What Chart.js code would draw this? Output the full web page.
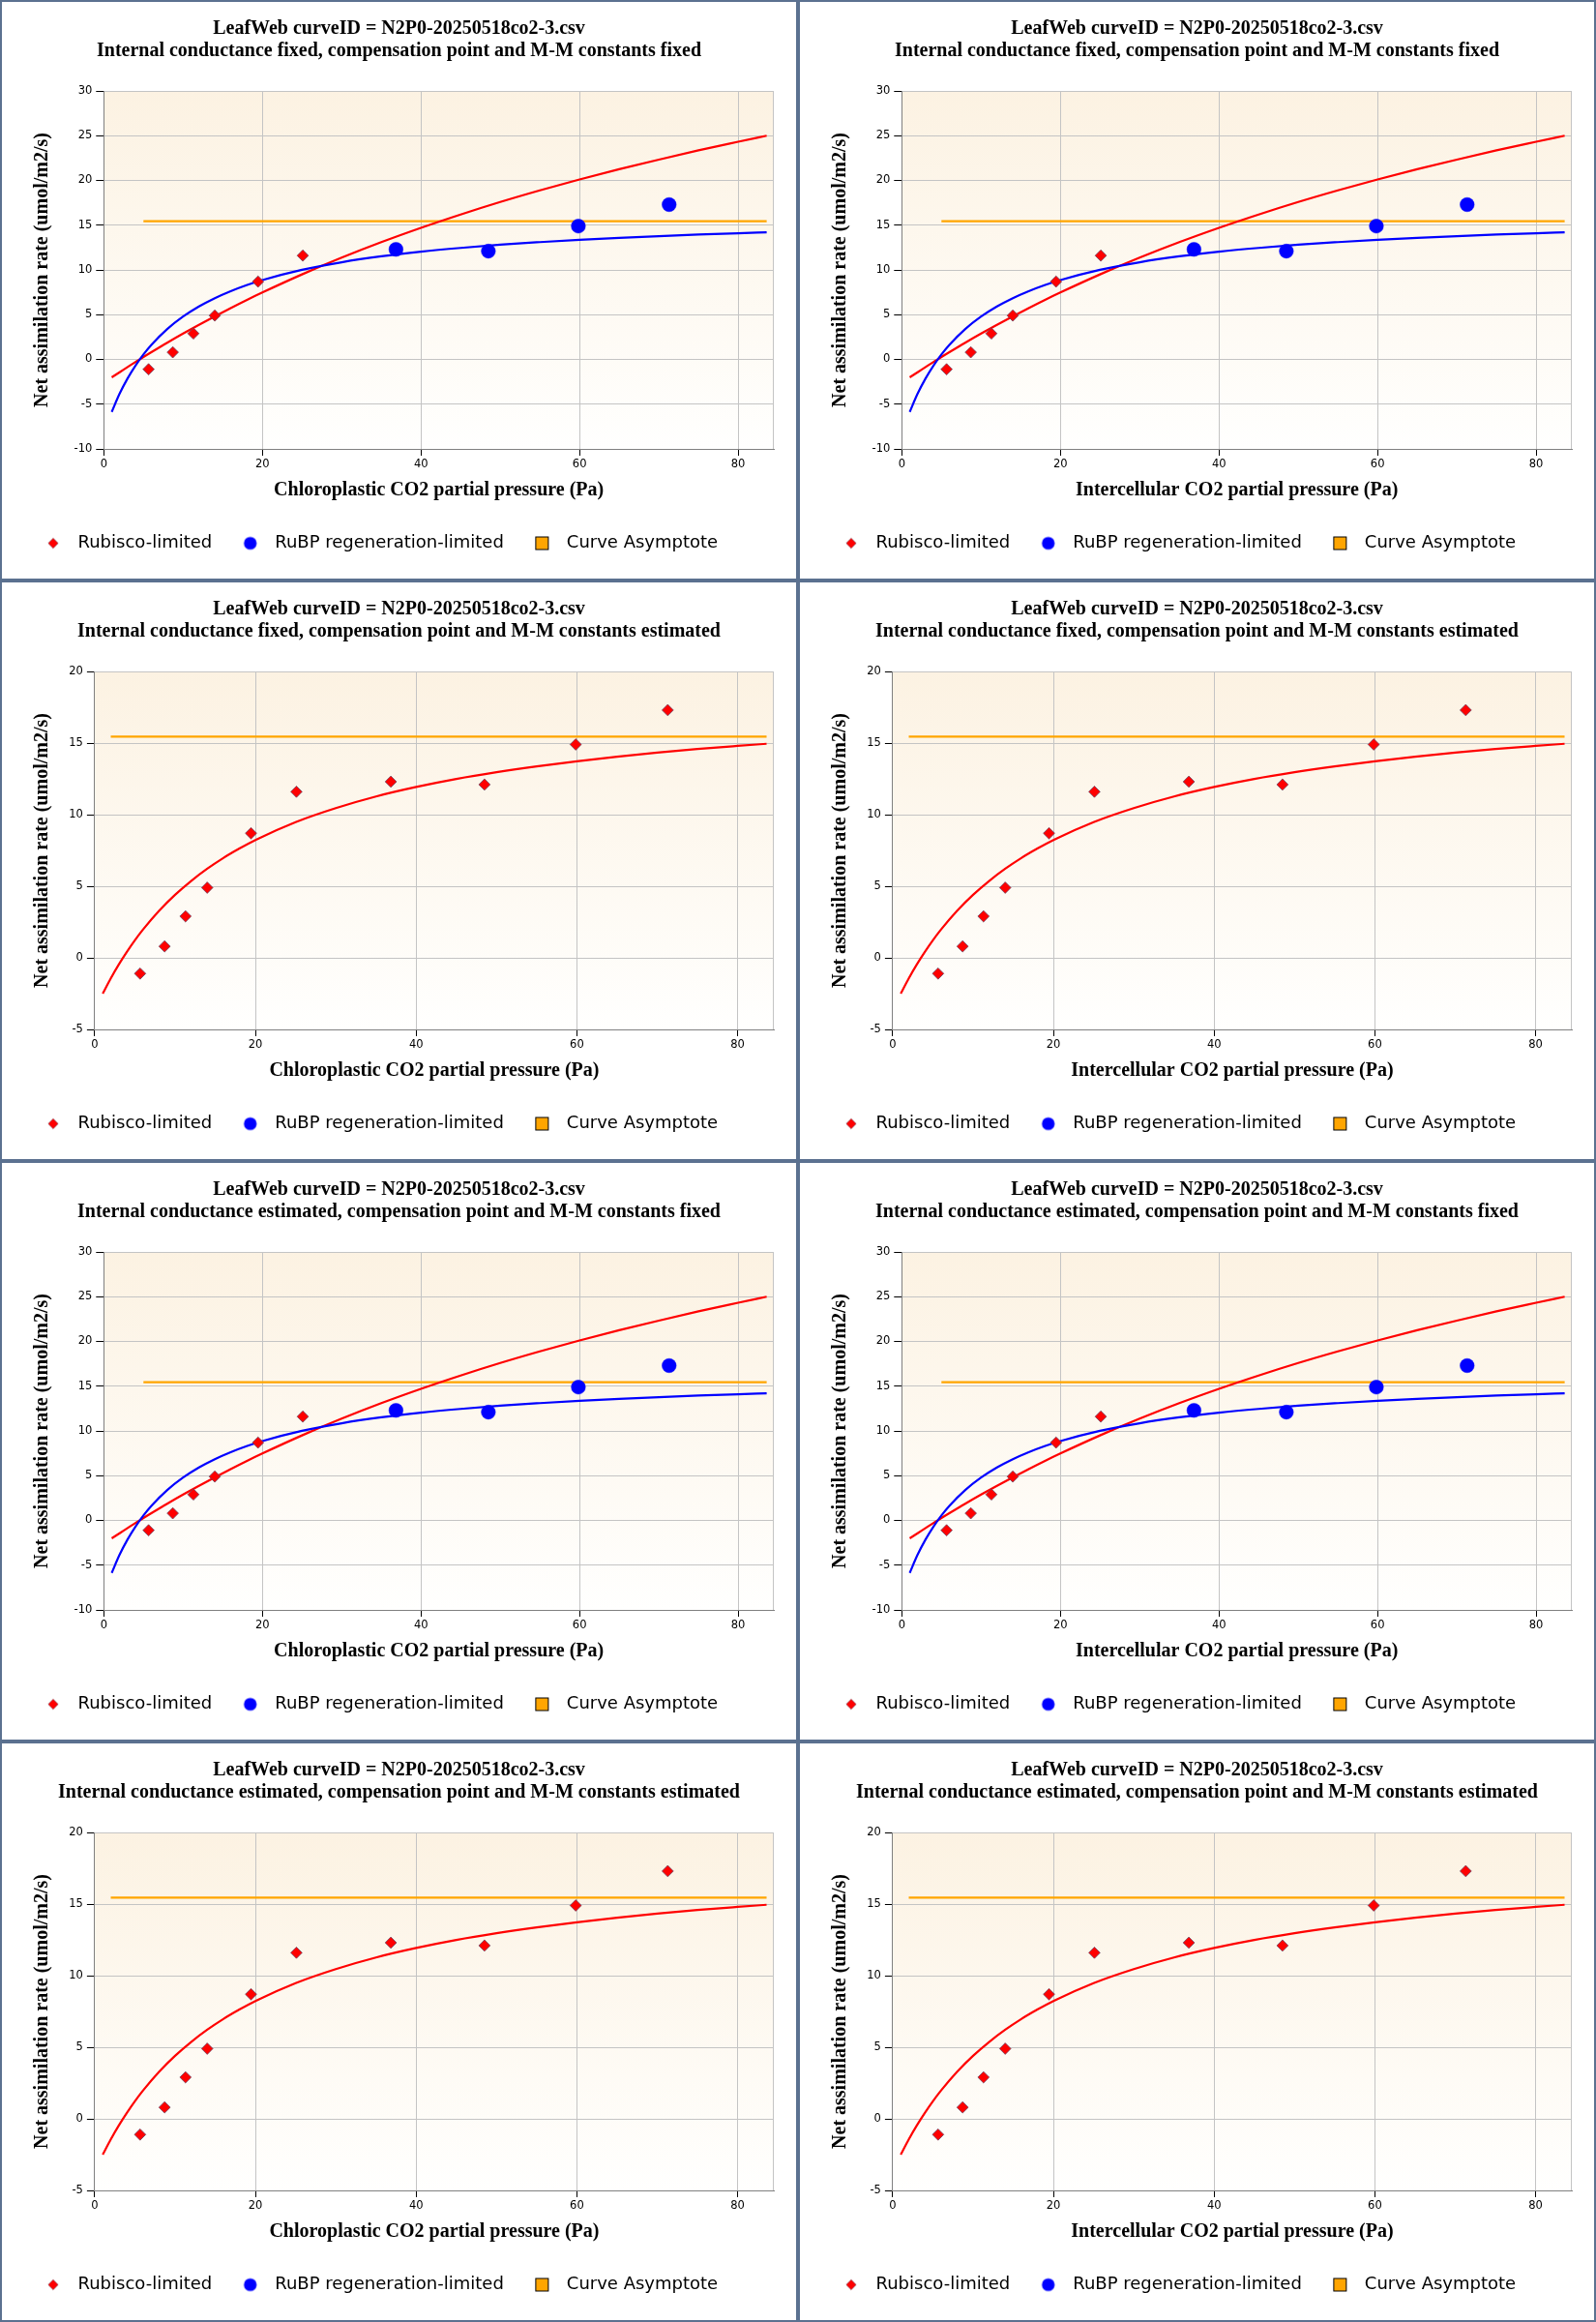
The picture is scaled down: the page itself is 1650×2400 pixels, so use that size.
<!DOCTYPE html>
<html><head><meta charset="utf-8">
<script src="https://cdn.jsdelivr.net/npm/chart.js@4.4.1/dist/chart.umd.min.js"></script>
<style>
html,body{margin:0;padding:0;background:#fff;}
#wrap{position:relative;width:1650px;height:2400px;overflow:hidden;}
.panel{position:absolute;width:825px;height:600px;}
.panel canvas{position:absolute;left:0;top:0;}
.frame{position:absolute;left:0;top:0;width:825px;height:600px;border:2px solid #5b7190;box-sizing:border-box;pointer-events:none;}
</style></head><body><div id="wrap"></div>
<script>
// ---- data ----
const measuredX = [5.65, 8.7, 11.3, 14.0, 19.45, 25.1, 36.85, 48.5, 59.85, 71.3];
const measuredA = [-1.1, 0.8, 2.9, 4.9, 8.7, 11.6, 12.3, 12.1, 14.9, 17.3];
const rubiscoCountFixed = 6;

const curveX = [1, 2, 3, 4, 5, 6, 8, 10, 12, 14, 16, 18, 20, 25, 30, 35, 40, 45, 50, 55, 60, 65, 70, 75, 80, 83.6];
const rubiscoCurveFixed = [-2.0, -1.43, -0.85, -0.29, 0.27, 0.81, 1.87, 2.89, 3.87, 4.82, 5.74, 6.63, 7.48, 9.50, 11.37, 13.10, 14.70, 16.19, 17.59, 18.89, 20.11, 21.26, 22.33, 23.36, 24.32, 25.0];
const rubpCurveFixed = [-5.87, -3.82, -2.12, -0.68, 0.56, 1.63, 3.39, 4.79, 5.92, 6.85, 7.63, 8.30, 8.87, 10.01, 10.86, 11.52, 12.04, 12.46, 12.82, 13.11, 13.37, 13.59, 13.78, 13.95, 14.10, 14.20];
const rubiscoCurveEst = [-2.50, -1.43, -0.46, 0.42, 1.23, 1.97, 3.28, 4.40, 5.37, 6.22, 6.97, 7.63, 8.23, 9.48, 10.46, 11.27, 11.93, 12.49, 12.96, 13.37, 13.73, 14.05, 14.33, 14.58, 14.80, 14.95];

const asymptoteValue = 15.45;
const asymptoteXFixed = [5.0, 83.6];
const asymptoteXEst = [2.0, 83.6];

const xTicks = [0, 20, 40, 60, 80];
const xAxisMax = 84.5;
const yTicksFixed = [-10, -5, 0, 5, 10, 15, 20, 25, 30];
const yTicksEst = [-5, 0, 5, 10, 15, 20];

const headerLine = 'LeafWeb curveID = N2P0-20250518co2-3.csv';
const subtitles = [
  'Internal conductance fixed, compensation point and M-M constants fixed',
  'Internal conductance fixed, compensation point and M-M constants estimated',
  'Internal conductance estimated, compensation point and M-M constants fixed',
  'Internal conductance estimated, compensation point and M-M constants estimated'
];
const xAxisTitles = ['Chloroplastic CO2 partial pressure (Pa)', 'Intercellular CO2 partial pressure (Pa)'];
const yAxisTitle = 'Net assimilation rate (umol/m2/s)';
const legendLabels = ['Rubisco-limited', 'RuBP regeneration-limited', 'Curve Asymptote'];

// ---- styling ----
const RED = '#ff0000', BLUE = '#0000ff', ORANGE = '#ffa500';
const serif = 'Liberation Serif';
const sans = 'DejaVu Sans';

function pts(xs, ys) { return xs.map((x, i) => ({x: x, y: ys[i]})); }

function makeIcon(kind) {
  const c = document.createElement('canvas');
  c.width = 16; c.height = 16;
  const g = c.getContext('2d');
  if (kind === 'diamond') {
    g.beginPath(); g.moveTo(8, 2.8); g.lineTo(13.2, 8); g.lineTo(8, 13.2); g.lineTo(2.8, 8); g.closePath();
    g.fillStyle = RED; g.fill(); g.lineWidth = 0.7; g.strokeStyle = 'rgba(110,60,80,0.8)'; g.stroke();
  } else if (kind === 'circle') {
    g.beginPath(); g.arc(8, 8, 6.6, 0, Math.PI * 2); g.fillStyle = BLUE; g.fill();
  } else {
    g.fillStyle = ORANGE; g.fillRect(1.5, 1.5, 13, 13);
    g.lineWidth = 1; g.strokeStyle = '#000'; g.strokeRect(1.5, 1.5, 13, 13);
  }
  return c;
}
const icons = [makeIcon('diamond'), makeIcon('circle'), makeIcon('square')];

const plotFrame = {
  id: 'plotFrame',
  afterLayout(chart) {
    if (chart.titleBlock) chart.titleBlock.left = 25;
  },
  beforeDraw(chart) {
    const {ctx, chartArea: a} = chart;
    const g = ctx.createLinearGradient(0, a.top, 0, a.bottom);
    g.addColorStop(0, '#fcf2e2');
    g.addColorStop(1, '#fffffe');
    ctx.save();
    ctx.fillStyle = g;
    ctx.fillRect(a.left, a.top, a.right - a.left, a.bottom - a.top);
    ctx.restore();
  },
  beforeDatasetsDraw(chart) {
    const {ctx, chartArea: a} = chart;
    ctx.save();
    ctx.strokeStyle = '#c4c4c4';
    ctx.lineWidth = 1;
    ctx.beginPath();
    ctx.moveTo(a.right - 0.5, a.top); ctx.lineTo(a.right - 0.5, a.bottom);
    ctx.stroke();
    ctx.restore();
  }
};

function buildPanel(row, col) {
  const fixed = row % 2 === 0;
  const panel = document.createElement('div');
  panel.className = 'panel';
  panel.style.left = (col * 825) + 'px';
  panel.style.top = (row * 600) + 'px';
  const canvas = document.createElement('canvas');
  canvas.width = 825; canvas.height = 600;
  canvas.style.width = '825px'; canvas.style.height = '600px';
  panel.appendChild(canvas);
  const frame = document.createElement('div');
  frame.className = 'frame';
  panel.appendChild(frame);
  document.getElementById('wrap').appendChild(panel);

  const nRub = fixed ? rubiscoCountFixed : measuredX.length;
  const rubPts = pts(measuredX.slice(0, nRub), measuredA.slice(0, nRub));
  const rubpPts = pts(measuredX.slice(nRub), measuredA.slice(nRub));
  const asymX = fixed ? asymptoteXFixed : asymptoteXEst;

  const datasets = [
    {label: legendLabels[0], data: rubPts, showLine: false, pointStyle: 'rectRot', pointRadius: 5.9,
     backgroundColor: RED, borderColor: 'rgba(100,70,100,0.75)', borderWidth: 1},
    {label: legendLabels[1], data: rubpPts, showLine: false, pointStyle: 'circle', pointRadius: 7.3,
     backgroundColor: BLUE, borderColor: BLUE, borderWidth: 0.5}
  ];
  if (fixed) {
    datasets.push({label: 'RuBP curve', data: pts(curveX, rubpCurveFixed), showLine: true, borderColor: BLUE,
      borderWidth: 2.2, pointRadius: 0, cubicInterpolationMode: 'monotone', fill: false});
    datasets.push({label: 'Rubisco curve', data: pts(curveX, rubiscoCurveFixed), showLine: true, borderColor: RED,
      borderWidth: 2.2, pointRadius: 0, cubicInterpolationMode: 'monotone', fill: false});
  } else {
    datasets.push({label: 'Rubisco curve', data: pts(curveX, rubiscoCurveEst), showLine: true, borderColor: RED,
      borderWidth: 2.2, pointRadius: 0, cubicInterpolationMode: 'monotone', fill: false});
  }
  datasets.push({label: legendLabels[2], data: pts(asymX, asymX.map(() => asymptoteValue)), showLine: true,
    borderColor: ORANGE, borderWidth: 2.4, pointRadius: 0, fill: false});

  const yTicks = fixed ? yTicksFixed : yTicksEst;
  const yWidth = fixed ? 91.8 : 82.4;
  const tickFont = {family: sans, size: 11.5};
  const titleFont = {family: serif, size: 20, weight: 'bold', lineHeight: 1.2};

  new Chart(canvas, {
    type: 'scatter',
    data: {datasets: datasets},
    plugins: [plotFrame],
    options: {
      responsive: false,
      animation: false,
      events: [],
      layout: {padding: {left: 15.5, right: 25, top: 0, bottom: 19.5}},
      plugins: {
        tooltip: {enabled: false},
        title: {
          display: true,
          text: [headerLine, subtitles[row]],
          color: '#000',
          font: {family: serif, size: 20, weight: 'bold', lineHeight: 1.15},
          padding: {top: 18, bottom: 30}
        },
        legend: {
          display: true,
          position: 'bottom',
          align: 'start',
          onClick: null,
          labels: {
            usePointStyle: true,
            pointStyleWidth: 33,
            padding: 23,
            color: '#000',
            font: {family: sans, size: 18},
            generateLabels: () => legendLabels.map((t, i) => ({
              text: t, pointStyle: icons[i], hidden: false, fontColor: '#000',
              fillStyle: 'transparent', strokeStyle: 'transparent', lineWidth: 0, datasetIndex: i
            }))
          }
        }
      },
      scales: {
        x: {
          type: 'linear',
          min: 0, max: xAxisMax,
          afterBuildTicks: s => { s.ticks = xTicks.map(v => ({value: v})); },
          afterFit: s => { s.height = 65.5; },
          ticks: {font: tickFont, color: '#000', padding: 2.6, maxRotation: 0},
          grid: {color: '#c4c4c4', tickColor: '#000', tickLength: 7, lineWidth: 1},
          border: {color: '#808080', width: 1},
          title: {display: true, text: xAxisTitles[col], color: '#000', font: titleFont, padding: {top: 0, bottom: 10.5}}
        },
        y: {
          type: 'linear',
          min: yTicks[0], max: yTicks[yTicks.length - 1],
          afterBuildTicks: s => { s.ticks = yTicks.map(v => ({value: v})); },
          afterFit: s => { s.width = yWidth; },
          ticks: {font: tickFont, color: '#000', padding: 4},
          grid: {color: '#c4c4c4', tickColor: '#000', tickLength: 8, lineWidth: 1},
          border: {color: '#808080', width: 1},
          title: {display: true, text: yAxisTitle, color: '#000', font: titleFont, padding: {top: 16.5, bottom: 0}}
        }
      }
    }
  });
}

for (let r = 0; r < 4; r++) for (let c = 0; c < 2; c++) buildPanel(r, c);
</script>
</body></html>
